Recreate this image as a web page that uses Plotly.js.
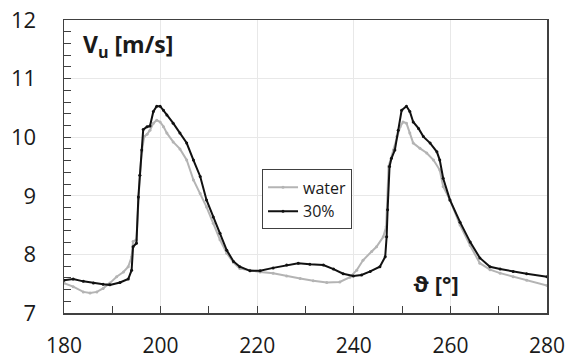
<!DOCTYPE html>
<html>
<head>
<meta charset="utf-8">
<script src="https://cdn.plot.ly/plotly-3.0.1.min.js"></script>
<style>html,body{margin:0;padding:0;background:#fff;}#chart{width:568px;height:361px;}</style>
</head>
<body>
<div id="chart"></div>
<script>
// Angle (deg) and tangential velocity Vu (m/s)
var waterX = [180, 181.9, 184.0, 185.4, 186.8, 188.1, 189.5, 190.9, 192.3, 193.3, 194.0, 194.3, 195.0, 195.4, 195.7, 196.1, 196.6, 197.2, 197.8, 198.5, 199.2, 199.9, 200.6, 201.3, 202.6, 204.0, 205.4, 206.8, 208.2, 209.5, 210.9, 212.3, 213.7, 215.1, 216.4, 218.5, 220.6, 223.3, 226.1, 228.9, 231.6, 234.4, 237.1, 239.2, 240.6, 241.9, 243.7, 244.7, 246.1, 246.7, 247.2, 248.2, 248.9, 249.6, 250.2, 250.9, 251.6, 252.3, 253.7, 255.1, 256.5, 257.8, 258.5, 259.9, 262.0, 264.1, 266.1, 268.2, 270.3, 273.0, 275.8, 280];
var waterY = [7.51, 7.45, 7.36, 7.34, 7.36, 7.42, 7.51, 7.62, 7.70, 7.79, 7.96, 8.22, 8.25, 8.95, 9.35, 9.75, 10.01, 10.05, 10.12, 10.24, 10.29, 10.26, 10.18, 10.07, 9.92, 9.80, 9.61, 9.27, 9.04, 8.81, 8.53, 8.25, 8.02, 7.86, 7.76, 7.73, 7.70, 7.68, 7.63, 7.59, 7.55, 7.52, 7.53, 7.61, 7.73, 7.90, 8.05, 8.13, 8.30, 8.47, 9.50, 9.78, 10.01, 10.18, 10.26, 10.24, 10.07, 9.90, 9.81, 9.73, 9.61, 9.44, 9.16, 8.93, 8.50, 8.15, 7.85, 7.74, 7.68, 7.62, 7.56, 7.47];
var mixX = [180, 181.9, 184, 186.1, 188.1, 189.5, 191.6, 193.3, 194.0, 194.3, 195.0, 195.4, 195.7, 196.1, 196.4, 197.2, 197.8, 198.5, 199.2, 199.9, 200.6, 201.3, 202.6, 204.0, 205.4, 206.8, 208.2, 209.5, 210.9, 212.3, 213.7, 215.1, 216.4, 218.5, 220.6, 223.3, 226.1, 228.5, 230.9, 233.7, 235.8, 237.8, 239.9, 241.6, 243.4, 245.4, 246.5, 246.8, 247.0, 247.4, 247.8, 248.5, 249.2, 249.9, 250.9, 251.6, 252.3, 253.4, 254.4, 255.8, 257.2, 257.8, 258.5, 259.9, 262.0, 264.1, 266.1, 268.2, 270.3, 273.0, 275.8, 280];
var mixY = [7.56, 7.58, 7.54, 7.51, 7.49, 7.48, 7.52, 7.58, 7.73, 8.13, 8.19, 8.98, 9.35, 9.78, 10.13, 10.18, 10.19, 10.44, 10.53, 10.53, 10.46, 10.38, 10.24, 10.07, 9.90, 9.61, 9.33, 8.93, 8.64, 8.36, 8.07, 7.88, 7.79, 7.72, 7.72, 7.77, 7.82, 7.85, 7.83, 7.82, 7.75, 7.67, 7.63, 7.65, 7.71, 7.79, 7.96, 8.30, 8.76, 9.50, 9.64, 9.78, 10.12, 10.46, 10.53, 10.44, 10.26, 10.15, 10.01, 9.90, 9.75, 9.61, 9.30, 8.93, 8.55, 8.21, 7.94, 7.79, 7.75, 7.71, 7.67, 7.62];
var seriesNames = ['water', '30%'];
var xTickVals = [180, 200, 220, 240, 260, 280];
var yTickVals = [7, 8, 9, 10, 11, 12];

var FONT = '"Open Sans", "Noto Sans", sans-serif';

var traces = [
  {x: waterX, y: waterY, name: seriesNames[0], type: 'scatter', mode: 'lines+markers',
   line: {color: '#b4b4b4', width: 2}, marker: {color: '#b4b4b4', size: 3}},
  {x: mixX, y: mixY, name: seriesNames[1], type: 'scatter', mode: 'lines+markers',
   line: {color: '#111111', width: 2}, marker: {color: '#111111', size: 3}}
];

var axisCommon = {
  showline: true, mirror: true, linecolor: '#404040', linewidth: 1.5,
  showgrid: true, gridcolor: '#e8e8e8', gridwidth: 1,
  ticks: 'inside', ticklen: 7, tickcolor: '#404040', tickwidth: 1,
  zeroline: false
};

var layout = {
  width: 568, height: 361,
  margin: {l: 64, r: 21, t: 20, b: 48},
  paper_bgcolor: '#ffffff', plot_bgcolor: '#ffffff',
  showlegend: true,
  legend: {x: 0.41, y: 0.49, xanchor: 'left', yanchor: 'top',
    bgcolor: '#ffffff', bordercolor: '#404040', borderwidth: 1,
    font: {family: FONT, size: 16, color: '#1a1a1a'},
    tracegroupgap: 0, itemwidth: 30},
  xaxis: Object.assign({}, axisCommon, {
    range: [180, 280], tickvals: xTickVals, ticklabelstandoff: 13,
    tickfont: {family: FONT, size: 21, color: '#1a1a1a'},
    minor: {dtick: 10, ticks: 'inside', ticklen: 7, tickcolor: '#404040', showgrid: false}
  }),
  yaxis: Object.assign({}, axisCommon, {
    range: [7, 12], tickvals: yTickVals, ticklabelstandoff: 22,
    tickfont: {family: FONT, size: 22, color: '#1a1a1a'},
    minor: {dtick: 0.2, ticks: 'inside', ticklen: 7, tickcolor: '#404040', showgrid: false}
  }),
  annotations: [
    {text: '<b>V<sub>u</sub> [m/s]</b>', xref: 'paper', yref: 'paper', x: 0.035, y: 0.98,
     xanchor: 'left', yanchor: 'top', showarrow: false,
     font: {family: FONT, size: 23, color: '#1a1a1a'}},
    {text: '<b>ϑ [°]</b>', xref: 'paper', yref: 'paper', x: 0.77, y: 0.102,
     xanchor: 'center', yanchor: 'middle', showarrow: false,
     font: {family: FONT, size: 22, color: '#1a1a1a'}}
  ]
};

Plotly.newPlot('chart', traces, layout, {displayModeBar: false, staticPlot: true});
</script>
</body>
</html>
